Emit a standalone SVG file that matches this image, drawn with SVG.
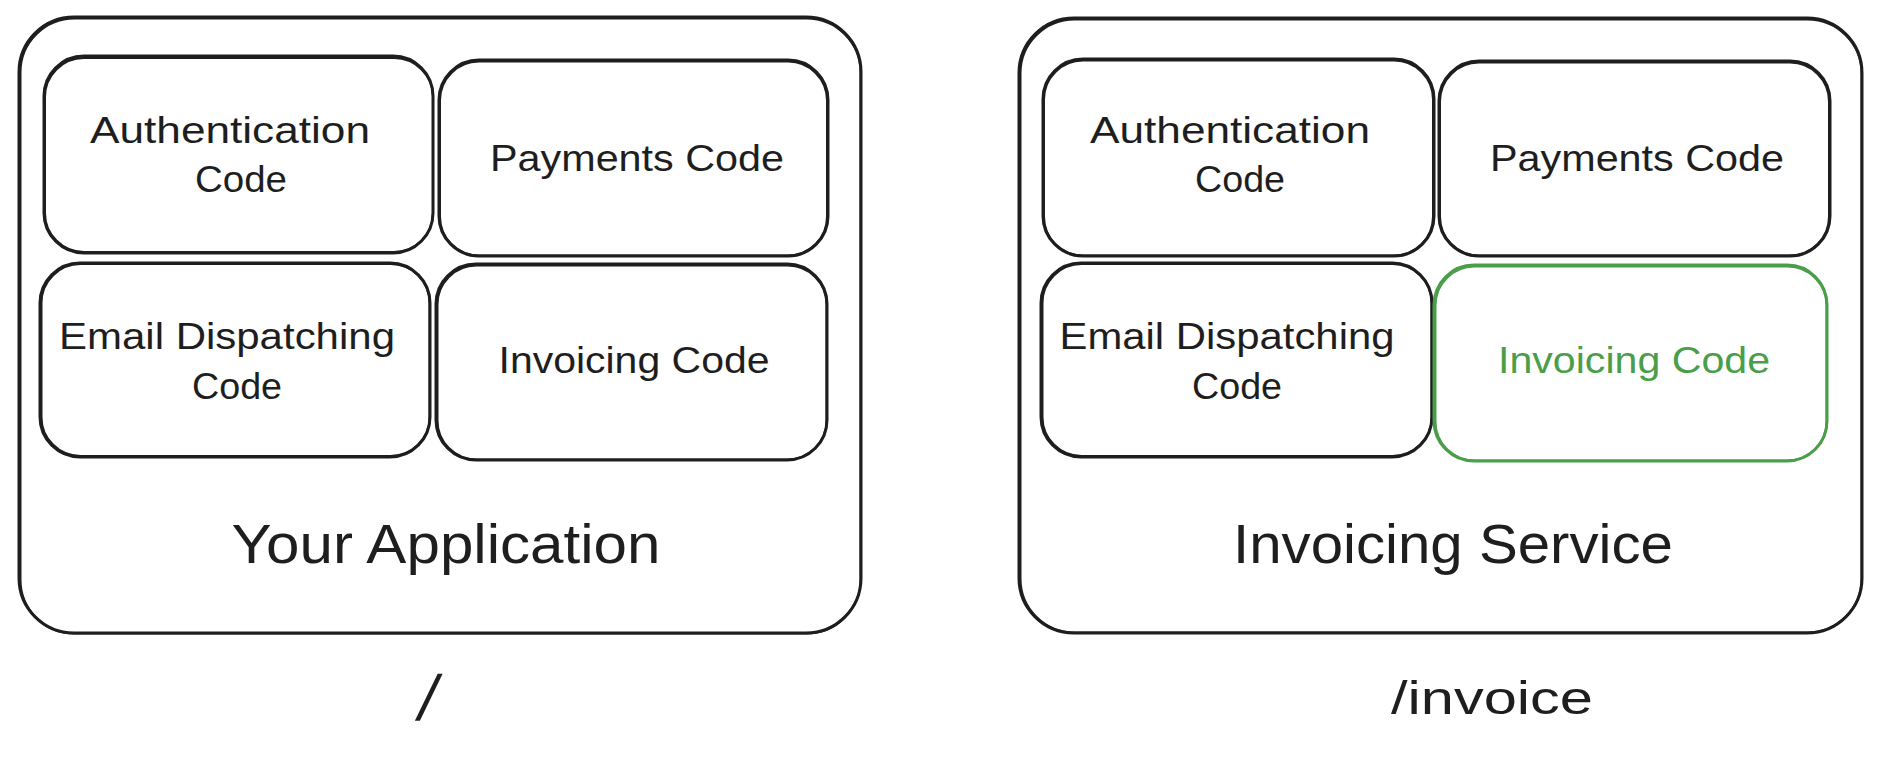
<svg xmlns="http://www.w3.org/2000/svg" width="1882" height="762" viewBox="0 0 1882 762">
  <style>
    .box { fill: none; stroke: #1e1e1e; stroke-width: 3; stroke-linejoin: round; }
    .box2 { fill: none; stroke: #1e1e1e; stroke-width: 2; stroke-linejoin: round; }
    .gbox { fill: none; stroke: #4a9e4a; stroke-width: 3; }
    .gbox2 { fill: none; stroke: #4a9e4a; stroke-width: 2; }
    text { font-family: "Liberation Sans", Arial, sans-serif; fill: #1e1e1e; text-anchor: middle; }
    .t { font-size: 37px; }
    .big { font-size: 56px; }
    .route { font-size: 46px; }
    .slash { font-size: 64px; }
    .green { fill: #4a9e4a; }
  </style>
  <rect width="1882" height="762" fill="#ffffff"/>

  <!-- Left: Your Application -->
  <g id="your-application">
    <rect class="box" x="19" y="17" width="842" height="616" rx="55"/>
    <rect class="box2" x="20.5" y="18.5" width="840" height="615" rx="54"/>
    <text class="big" x="446" y="563" textLength="429" lengthAdjust="spacingAndGlyphs">Your Application</text>
  </g>
  <g id="auth-left">
    <rect class="box" x="44" y="56" width="389" height="197" rx="40"/>
    <rect class="box2" x="45" y="58" width="388" height="194" rx="39"/>
    <text class="t" x="230" y="143" textLength="280" lengthAdjust="spacingAndGlyphs">Authentication</text>
    <text class="t" x="241" y="192" textLength="92" lengthAdjust="spacingAndGlyphs">Code</text>
  </g>
  <g id="payments-left">
    <rect class="box" x="439" y="60" width="389" height="196" rx="40"/>
    <rect class="box2" x="440" y="61.5" width="387" height="194" rx="39"/>
    <text class="t" x="637" y="171" textLength="294" lengthAdjust="spacingAndGlyphs">Payments Code</text>
  </g>
  <g id="email-left">
    <rect class="box" x="40" y="263" width="390" height="194" rx="40"/>
    <rect class="box2" x="41.5" y="264" width="388" height="192" rx="39"/>
    <text class="t" x="227" y="349" textLength="336" lengthAdjust="spacingAndGlyphs">Email Dispatching</text>
    <text class="t" x="237" y="399" textLength="90" lengthAdjust="spacingAndGlyphs">Code</text>
  </g>
  <g id="invoicing-left">
    <rect class="box" x="436" y="264" width="391" height="196" rx="40"/>
    <rect class="box2" x="437.5" y="265.5" width="389" height="194" rx="39"/>
    <text class="t" x="634" y="373" textLength="271" lengthAdjust="spacingAndGlyphs">Invoicing Code</text>
  </g>
  <g id="route-root">
    <text class="slash" transform="translate(424 720) skewX(-12)" x="0" y="0">/</text>
  </g>

  <!-- Right: Invoicing Service -->
  <g id="invoicing-service">
    <rect class="box" x="1019" y="18" width="843" height="615" rx="55"/>
    <rect class="box2" x="1020.5" y="19.5" width="841" height="613" rx="54"/>
    <text class="big" x="1453" y="563" textLength="440" lengthAdjust="spacingAndGlyphs">Invoicing Service</text>
  </g>
  <g id="auth-right">
    <rect class="box" x="1043" y="59" width="391" height="197" rx="40"/>
    <rect class="box2" x="1044" y="60.5" width="389" height="195" rx="39"/>
    <text class="t" x="1230" y="143" textLength="280" lengthAdjust="spacingAndGlyphs">Authentication</text>
    <text class="t" x="1240" y="192" textLength="90" lengthAdjust="spacingAndGlyphs">Code</text>
  </g>
  <g id="payments-right">
    <rect class="box" x="1439" y="61" width="391" height="195" rx="40"/>
    <rect class="box2" x="1440" y="62.5" width="389" height="193" rx="39"/>
    <text class="t" x="1637" y="171" textLength="294" lengthAdjust="spacingAndGlyphs">Payments Code</text>
  </g>
  <g id="email-right">
    <rect class="box" x="1041" y="263" width="391" height="194" rx="40"/>
    <rect class="box2" x="1042.5" y="264" width="389" height="192" rx="39"/>
    <text class="t" x="1227" y="349" textLength="335" lengthAdjust="spacingAndGlyphs">Email Dispatching</text>
    <text class="t" x="1237" y="399" textLength="90" lengthAdjust="spacingAndGlyphs">Code</text>
  </g>
  <g id="invoicing-right">
    <rect class="gbox" x="1434" y="265" width="393" height="196" rx="40"/>
    <rect class="gbox2" x="1435.5" y="266.5" width="391" height="194" rx="39"/>
    <text class="t green" x="1634" y="373" textLength="272" lengthAdjust="spacingAndGlyphs">Invoicing Code</text>
  </g>
  <g id="route-invoice">
    <text class="route" x="1492" y="714" textLength="202" lengthAdjust="spacingAndGlyphs">/invoice</text>
  </g>

  <g id="connectors"></g>
</svg>
